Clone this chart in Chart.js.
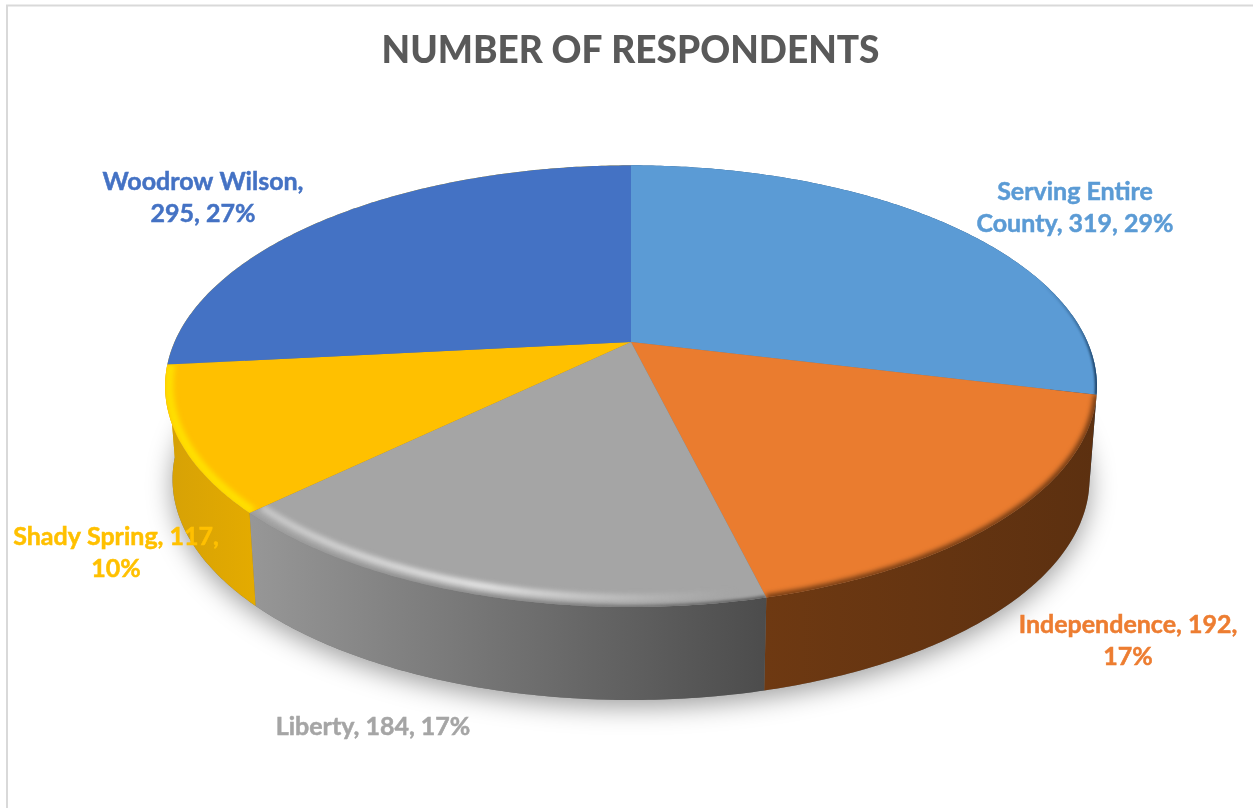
<!DOCTYPE html>
<html>
<head>
<meta charset="utf-8">
<title>Number of Respondents</title>
<script src="https://cdn.jsdelivr.net/npm/chart.js@4"></script>
<style>
  html, body { margin: 0; background: #fff; }
  canvas { display: block; }
</style>
</head>
<body>
<canvas id="respondents" width="1253" height="808"></canvas>
<script>
const chartTitle = 'NUMBER OF RESPONDENTS';
const categories = ['Serving Entire County', 'Independence', 'Liberty', 'Shady Spring', 'Woodrow Wilson'];
const respondents = [319, 192, 184, 117, 295];
const percentLabels = [29, 17, 17, 10, 27];
// how many words of each label sit on its first line
const labelBreaks = [2, 2, 4, 3, 2];

const faceColors = ['#5b9bd5', '#ea7c2f', '#a5a5a5', '#ffc000', '#4472c4'];
const textColors = ['#5b9bd5', '#ed7d31', '#a5a5a5', '#ffc000', '#4472c4'];
// the far left of the wall is only ever seen next to the yellow slice, so the last one stays yellow
const wallLeftColors = ['#24527c', '#6e3912', '#979797', '#d6a106', '#d6a106'];
const wallRightColors = ['#1f4a70', '#5c3010', '#4c4c4c', '#e4ab00', '#d6a106'];

// centre point of each label
const labelX = [1075, 1128, 373, 116, 203];
const labelY = [200, 633, 735, 545, 190];
const LINE_GAP = 32;

// the disc is a circle seen in perspective, so the apex sits above the ellipse centre
const CX = 631, CY = 342, RX = 456.5, RY = 212, TILT = 0.2;
const DEPTH = 93, BASE_SCALE = 0.984;

function project(theta, r) {
  const u = r * Math.sin(theta);
  const v = -r * Math.cos(theta);
  const w = 1 - TILT * v;
  return { x: CX + RX * u / w, y: CY + RY * v / w };
}

function projectBase(theta) {
  const p = project(theta, 1);
  return { x: CX + (p.x - CX) * BASE_SCALE, y: p.y + DEPTH };
}

function arcPoints(from, to, fn) {
  const steps = Math.max(8, Math.ceil((to - from) * 90));
  const pts = [];
  for (let i = 0; i <= steps; i++) {
    pts.push(fn(from + (to - from) * i / steps));
  }
  return pts;
}

function tracePoints(ctx, pts, join) {
  pts.forEach((p, i) => {
    if (i === 0 && !join) ctx.moveTo(p.x, p.y);
    else ctx.lineTo(p.x, p.y);
  });
}

// chart.js angles start at 3 o'clock, these start at 12
function sliceAngles(arc) {
  return [arc.startAngle + Math.PI / 2, arc.endAngle + Math.PI / 2];
}

function faceClip(ctx, from, to) {
  ctx.beginPath();
  ctx.moveTo(CX, CY);
  tracePoints(ctx, arcPoints(from, to, t => project(t, 1)), true);
  ctx.closePath();
}

function drawGroundShadow(ctx) {
  ctx.save();
  ctx.shadowColor = 'rgba(0,0,0,0.38)';
  ctx.shadowBlur = 26;
  ctx.shadowOffsetY = 7;
  ctx.fillStyle = '#777';
  ctx.beginPath();
  tracePoints(ctx, arcPoints(0, Math.PI * 2, projectBase));
  ctx.closePath();
  ctx.fill();
  ctx.restore();
}

function drawWall(ctx, from, to, i) {
  const top = arcPoints(from, to, t => project(t, 1));
  const base = arcPoints(from, to, projectBase).reverse();
  const xs = top.concat(base).map(p => p.x);
  const grad = ctx.createLinearGradient(Math.min(...xs), 0, Math.max(...xs), 0);
  grad.addColorStop(0, wallLeftColors[i]);
  grad.addColorStop(1, wallRightColors[i]);
  ctx.fillStyle = grad;
  ctx.beginPath();
  tracePoints(ctx, top);
  tracePoints(ctx, base, true);
  ctx.closePath();
  ctx.fill();
}

function strokeRim(ctx, from, to, r, color, width, blur) {
  ctx.save();
  faceClip(ctx, from, to);
  ctx.clip();
  ctx.filter = `blur(${blur}px)`;
  ctx.strokeStyle = color;
  ctx.lineWidth = width;
  ctx.beginPath();
  tracePoints(ctx, arcPoints(from, to, t => project(t, r)));
  ctx.stroke();
  ctx.restore();
}

function horizontalFade(ctx, x0, x1, stops) {
  const grad = ctx.createLinearGradient(x0, 0, x1, 0);
  stops.forEach(s => grad.addColorStop(s[0], s[1]));
  return grad;
}

// rounded top edge of the disc, lit on the left and shaded on the right
function drawBevels(ctx, angles) {
  const [blueFrom, blueTo] = angles[0];
  strokeRim(ctx, blueFrom, blueTo, 1, horizontalFade(ctx, 1040, 1097, [
    [0, 'rgba(30,70,110,0)'], [0.75, 'rgba(30,70,110,0.55)'], [1, 'rgba(25,60,95,1)']
  ]), 4, 1);

  const [orangeFrom, orangeTo] = angles[1];
  strokeRim(ctx, orangeFrom, orangeTo, 1, 'rgba(96,50,16,0.95)', 6, 2.5);

  const [grayFrom, grayTo] = angles[2];
  strokeRim(ctx, grayFrom, grayTo, 0.972, horizontalFade(ctx, 256, 763, [
    [0, 'rgba(232,232,232,0.5)'], [0.45, 'rgba(236,236,236,0.9)'],
    [0.72, 'rgba(225,225,225,0.4)'], [0.95, 'rgba(200,200,200,0)']
  ]), 7, 2.5);
  strokeRim(ctx, grayFrom, grayTo, 1, horizontalFade(ctx, 256, 763, [
    [0, 'rgba(150,150,150,0.6)'], [0.5, 'rgba(125,125,125,0.7)'], [1, 'rgba(85,85,85,0.9)']
  ]), 4, 1.5);

  const [yellowFrom, yellowTo] = angles[3];
  strokeRim(ctx, yellowFrom, yellowTo, 0.992, '#ffdf00', 9, 2.5);
}

function labelLines(i) {
  const words = `${categories[i]}, ${respondents[i]}, ${percentLabels[i]}%`.split(' ');
  const lines = [words.slice(0, labelBreaks[i]).join(' ')];
  if (labelBreaks[i] < words.length) lines.push(words.slice(labelBreaks[i]).join(' '));
  return lines;
}

const disc3d = {
  id: 'disc3d',
  beforeDraw(chart) {
    // thin frame along the top and left of the chart space
    const ctx = chart.ctx;
    ctx.save();
    ctx.strokeStyle = '#d9d9d9';
    ctx.lineWidth = 2;
    ctx.beginPath();
    ctx.moveTo(7, 808);
    ctx.lineTo(7, 5.5);
    ctx.lineTo(1253, 5.5);
    ctx.stroke();
    ctx.restore();
  },
  beforeDatasetDraw(chart, args) {
    const ctx = chart.ctx;
    const angles = chart.getDatasetMeta(args.index).data.map(sliceAngles);
    drawGroundShadow(ctx);
    angles.forEach((a, i) => drawWall(ctx, a[0], a[1], i));
    angles.forEach((a, i) => {
      faceClip(ctx, a[0], a[1]);
      ctx.fillStyle = faceColors[i];
      ctx.fill();
    });
    drawBevels(ctx, angles);
    // the flat arcs are replaced by the tilted disc above
    return false;
  },
  afterDatasetsDraw(chart) {
    const ctx = chart.ctx;
    ctx.save();
    ctx.font = 'bold 25px Lato';
    ctx.textAlign = 'center';
    ctx.textBaseline = 'alphabetic';
    ctx.lineWidth = 0.5;
    categories.forEach((c, i) => {
      ctx.fillStyle = textColors[i];
      ctx.strokeStyle = textColors[i];
      labelLines(i).forEach((line, n) => {
        ctx.fillText(line, labelX[i], labelY[i] + n * LINE_GAP);
        ctx.strokeText(line, labelX[i], labelY[i] + n * LINE_GAP);
      });
    });
    ctx.restore();
  }
};

new Chart(document.getElementById('respondents'), {
  type: 'pie',
  data: {
    labels: categories,
    datasets: [{
      data: respondents,
      backgroundColor: faceColors,
      borderWidth: 0
    }]
  },
  options: {
    responsive: false,
    animation: false,
    layout: { padding: { left: 8 } },
    plugins: {
      legend: { display: false },
      tooltip: { enabled: false },
      title: {
        display: true,
        text: chartTitle,
        color: '#595959',
        font: { family: 'Lato', size: 37, weight: '900' },
        padding: { top: 29, bottom: 10 }
      }
    }
  },
  plugins: [disc3d]
});
</script>
</body>
</html>
